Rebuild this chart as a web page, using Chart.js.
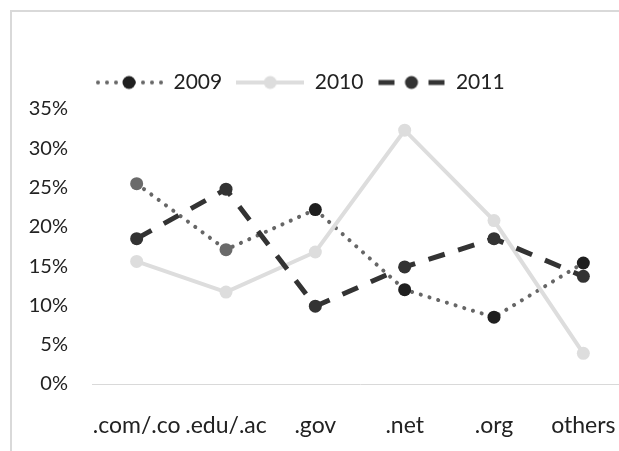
<!DOCTYPE html>
<html lang="en">
<head>
    <meta charset="UTF-8">
    <title>Domains 2009-2011</title>
    <script src="https://cdn.jsdelivr.net/npm/chart.js"></script>
    <style>
        body { margin: 0; overflow: hidden; background: #fff; width: 619px; height: 451px; }
        .frame { position: absolute; left: 10px; top: 10px; width: 700px; height: 500px;
                 border-top: 2px solid #d9d9d9; border-left: 2px solid #d9d9d9; }
        .chart-container { position: absolute; left: 0; top: 0; width: 640px; height: 451px; }
    </style>
</head>
<body>
    <div class="frame"></div>
    <div class="chart-container">
        <canvas id="lineChart"></canvas>
    </div>

<script>
    // categories and shares (%)
    const categories = ['.com/.co', '.edu/.ac', '.gov', '.net', '.org', 'others'];
    const share2009 = [25.5, 17.1, 22.2, 12.0, 8.5, 15.4];
    const share2010 = [15.6, 11.7, 16.8, 32.3, 20.8, 3.9];
    const share2011 = [18.5, 24.8, 9.9, 14.9, 18.5, 13.7];
    const seriesNames = ['2009', '2010', '2011'];
    const yMax = 35;
    const yStep = 5;

    const fontFamily = 'Lato, "Open Sans", sans-serif';

    // legend icons (line + marker, Excel style)
    function legendIcon(kind, lineColor, dotColor) {
        const c = document.createElement('canvas');
        c.width = 68; c.height = 18;
        const g = c.getContext('2d');
        g.strokeStyle = lineColor;
        if (kind === 'dot') {
            g.fillStyle = lineColor;
            for (let x = 3; x < 68; x += 9) {
                g.beginPath(); g.arc(x, 9, 2, 0, Math.PI * 2); g.fill();
            }
        } else if (kind === 'solid') {
            g.lineWidth = 4;
            g.beginPath(); g.moveTo(0, 9); g.lineTo(68, 9); g.stroke();
        } else {
            g.lineWidth = 5;
            g.beginPath(); g.moveTo(1, 9); g.lineTo(17, 9); g.moveTo(51, 9); g.lineTo(67, 9); g.stroke();
        }
        g.fillStyle = dotColor;
        g.beginPath(); g.arc(34, 9, 6.5, 0, Math.PI * 2); g.fill();
        return c;
    }
    const icons = [
        legendIcon('dot', '#666666', '#1f1f1f'),
        legendIcon('solid', '#dddddd', '#dddddd'),
        legendIcon('dash', '#333333', '#333333')
    ];

    // puts the legend over the plot, like in the original
    const legendPlace = {
        id: 'legendPlace',
        afterLayout(chart) {
            chart.legend.left = 81;
            chart.legend.top = 58;
        }
    };

    const ctx = document.getElementById('lineChart').getContext('2d');
    const lineChart = new Chart(ctx, {
        type: 'line',
        data: {
            labels: categories,
            datasets: [
                {
                    label: seriesNames[0],
                    data: share2009,
                    borderColor: '#666666',
                    borderWidth: 4,
                    borderDash: [0.1, 9],
                    borderCapStyle: 'round',
                    pointRadius: 6.5,
                    pointBorderWidth: 0,
                    pointBackgroundColor: ['#6a6a6a', '#6a6a6a', '#1f1f1f', '#1f1f1f', '#1f1f1f', '#1f1f1f'],
                    tension: 0,
                    order: 3
                },
                {
                    label: seriesNames[1],
                    data: share2010,
                    borderColor: '#dddddd',
                    borderWidth: 4,
                    pointRadius: 6.5,
                    pointBorderWidth: 0,
                    pointBackgroundColor: '#dddddd',
                    tension: 0,
                    order: 2
                },
                {
                    label: seriesNames[2],
                    data: share2011,
                    borderColor: '#333333',
                    borderWidth: 5,
                    borderDash: [17, 14],
                    pointRadius: 6.5,
                    pointBorderWidth: 0,
                    pointBackgroundColor: '#333333',
                    tension: 0,
                    order: 1
                }
            ]
        },
        options: {
            responsive: true,
            maintainAspectRatio: false,
            animation: false,
            layout: {
                padding: { left: 26, right: 12, top: 64, bottom: 0 }
            },
            plugins: {
                legend: {
                    position: 'top',
                    align: 'start',
                    labels: {
                        usePointStyle: true,
                        pointStyleWidth: 68,
                        padding: 14,
                        color: '#222',
                        font: { family: fontFamily, size: 21 },
                        sort: (a, b) => a.datasetIndex - b.datasetIndex,
                        generateLabels: (chart) => {
                            const items = Chart.defaults.plugins.legend.labels.generateLabels(chart);
                            items.forEach(it => { it.pointStyle = icons[it.datasetIndex]; });
                            return items;
                        }
                    }
                },
                tooltip: { enabled: false }
            },
            scales: {
                x: {
                    offset: true,
                    grid: { display: false, drawTicks: false },
                    border: { display: true, color: '#d9d9d9', width: 1 },
                    ticks: { color: '#222', padding: 28, maxRotation: 0, autoSkip: false,
                             font: { family: fontFamily, size: 23 } },
                    afterFit: (s) => { s.height = 67; s.paddingLeft = 0; s.paddingRight = 0; }
                },
                y: {
                    min: 0,
                    max: yMax,
                    grid: { display: false, drawTicks: false },
                    border: { display: false },
                    ticks: {
                        stepSize: yStep,
                        padding: 24,
                        color: '#222',
                        font: { family: fontFamily, size: 20 },
                        callback: (v) => v + '%'
                    },
                    afterFit: (s) => { s.width = 66; }
                }
            }
        },
        plugins: [legendPlace]
    });
</script>
</body>
</html>
